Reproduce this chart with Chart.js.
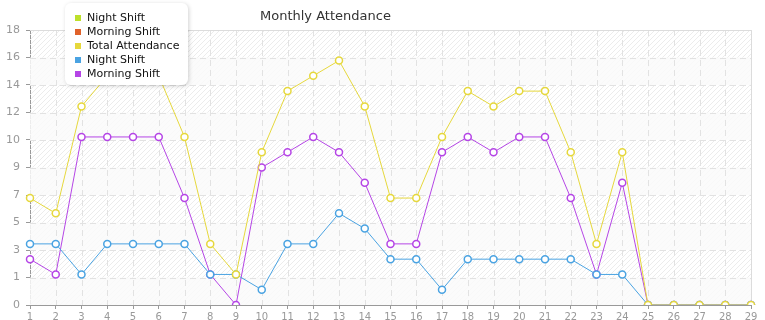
<!DOCTYPE html>
<html>
<head>
<meta charset="utf-8">
<script src="https://cdn.jsdelivr.net/npm/chart.js@4/dist/chart.umd.min.js"></script>
<style>
html, body { margin: 0; padding: 0; background: #fff; }
#wrap { width: 765px; height: 320px; position: relative; }
</style>
</head>
<body>
<div id="wrap"><canvas id="chart"></canvas></div>
<script>
const days = ["1","2","3","4","5","6","7","8","9","10","11","12","13","14","15","16","17","18","19","20","21","22","23","24","25","26","27","28","29"];
const totalAttendance = [7,6,13,15,15,15,11,4,2,10,14,15,16,13,7,7,11,14,13,14,14,10,4,10,0,0,0,0,0];
const nightShift = [4,4,2,4,4,4,4,2,2,1,4,4,6,5,3,3,1,3,3,3,3,3,2,2,0,0,0,0,0];
const morningShift = [3,2,11,11,11,11,7,2,0,9,10,11,10,8,4,4,10,11,10,11,11,7,2,8,0,0,0,0,0];
const yMax = 18;
const yStep = 1.8;

const FONT = "'DejaVu Sans', sans-serif";

function lineSet(label, data, color) {
    return {
        label: label,
        data: data,
        borderColor: color,
        backgroundColor: color,
        borderWidth: 1,
        tension: 0,
        pointRadius: 3.5,
        pointHoverRadius: 3.5,
        pointBorderWidth: 1.5,
        pointBackgroundColor: "#fff",
        pointBorderColor: color
    };
}

// hatched plot background with alternating bands
const plotBackground = {
    id: "plotBackground",
    beforeDatasetsDraw(chart) {
        const { ctx, chartArea: a, scales } = chart;
        ctx.save();
        const pc = document.createElement("canvas");
        pc.width = 5; pc.height = 5;
        const p = pc.getContext("2d");
        p.strokeStyle = "#ececec";
        p.lineWidth = 1;
        p.beginPath();
        p.moveTo(0, 5); p.lineTo(5, 0);
        p.moveTo(-1, 1); p.lineTo(1, -1);
        p.moveTo(4, 6); p.lineTo(6, 4);
        p.stroke();
        ctx.beginPath();
        ctx.rect(a.left, a.top, a.right - a.left, a.bottom - a.top);
        ctx.clip();
        ctx.fillStyle = ctx.createPattern(pc, "repeat");
        ctx.fillRect(a.left, a.top, a.right - a.left, a.bottom - a.top);
        ctx.fillStyle = "rgba(250,250,250,0.85)";
        const y = scales.y;
        for (let v = 0; v < yMax - 0.01; v += yStep * 2) {
            const y1 = y.getPixelForValue(v);
            const y2 = y.getPixelForValue(v + yStep);
            ctx.fillRect(a.left, y2, a.right - a.left, y1 - y2);
        }
        ctx.restore();
        // grid on top of background
        ctx.save();
        ctx.strokeStyle = "#e2e2e2";
        ctx.lineWidth = 1;
        ctx.setLineDash([6, 4]);
        y.ticks.forEach((t, i) => {
            if (i === 0) return;
            const py = Math.round(y.getPixelForValue(t.value)) + 0.5;
            ctx.beginPath(); ctx.moveTo(a.left, py); ctx.lineTo(a.right, py); ctx.stroke();
        });
        const x = scales.x;
        x.ticks.forEach((t, i) => {
            if (i === 0) return;
            const px = Math.round(x.getPixelForValue(i)) + 0.5;
            ctx.beginPath(); ctx.moveTo(px, a.top); ctx.lineTo(px, a.bottom); ctx.stroke();
        });
        ctx.setLineDash([]);
        ctx.strokeStyle = "#dcdcdc";
        ctx.beginPath();
        ctx.moveTo(a.left, a.top + 0.5); ctx.lineTo(a.right + 0.5, a.top + 0.5); ctx.lineTo(a.right + 0.5, a.bottom);
        ctx.stroke();
        ctx.restore();
    }
};

// floating legend box + title
const overlay = {
    id: "overlay",
    afterDraw(chart) {
        const { ctx } = chart;
        ctx.save();
        ctx.font = "13px " + FONT;
        ctx.fillStyle = "#333";
        ctx.textBaseline = "middle";
        ctx.textAlign = "left";
        ctx.fillText("Monthly Attendance", 260, 17);

        const bx = 65, by = 3, bw = 123, bh = 82;
        ctx.shadowColor = "rgba(0,0,0,0.18)";
        ctx.shadowBlur = 4;
        ctx.shadowOffsetX = 1;
        ctx.shadowOffsetY = 1;
        ctx.fillStyle = "#fff";
        ctx.beginPath();
        ctx.roundRect(bx, by, bw, bh, 6);
        ctx.fill();
        ctx.shadowColor = "transparent";

        ctx.font = "11px " + FONT;
        chart.data.datasets.forEach((ds, i) => {
            const cy = 18 + i * 14;
            ctx.fillStyle = ds.borderColor;
            ctx.fillRect(75, cy - 3, 6, 6);
            ctx.fillStyle = "#111";
            ctx.fillText(ds.label, 87, cy);
        });
        ctx.restore();
    }
};

new Chart(document.getElementById("chart"), {
    type: "line",
    data: {
        labels: days,
        datasets: [
            lineSet("Night Shift", [], "#bde02a"),
            lineSet("Morning Shift", [], "#e0622a"),
            lineSet("Total Attendance", totalAttendance, "#e6d83c"),
            lineSet("Night Shift", nightShift, "#4aa3e2"),
            lineSet("Morning Shift", morningShift, "#b545e6")
        ]
    },
    options: {
        responsive: true,
        maintainAspectRatio: false,
        animation: false,
        layout: { padding: { top: 30, right: 14, left: 0, bottom: 0 } },
        plugins: {
            legend: { display: false },
            title: { display: false },
            tooltip: { enabled: false }
        },
        scales: {
            x: {
                offset: false,
                afterFit(s) { s.height = 15; },
                grid: {
                    display: true,
                    drawOnChartArea: false,
                    tickLength: 4,
                    tickColor: "#999"
                },
                border: { color: "#999" },
                ticks: {
                    autoSkip: false,
                    maxRotation: 0,
                    padding: 2,
                    color: "#999",
                    font: { family: FONT, size: 10 }
                }
            },
            y: {
                min: 0,
                max: yMax,
                afterFit(s) { s.width = 30; },
                afterBuildTicks(s) {
                    const t = [];
                    for (let k = 0; k <= 10; k++) t.push({ value: k * yStep });
                    s.ticks = t;
                },
                grid: {
                    display: true,
                    drawOnChartArea: false,
                    tickLength: 4,
                    tickColor: "#999"
                },
                border: { color: "#999" },
                ticks: {
                    padding: 6,
                    color: "#999",
                    font: { family: FONT, size: 11 },
                    callback: v => Math.floor(v + 1e-6)
                }
            }
        }
    },
    plugins: [plotBackground, overlay]
});
</script>
</body>
</html>
